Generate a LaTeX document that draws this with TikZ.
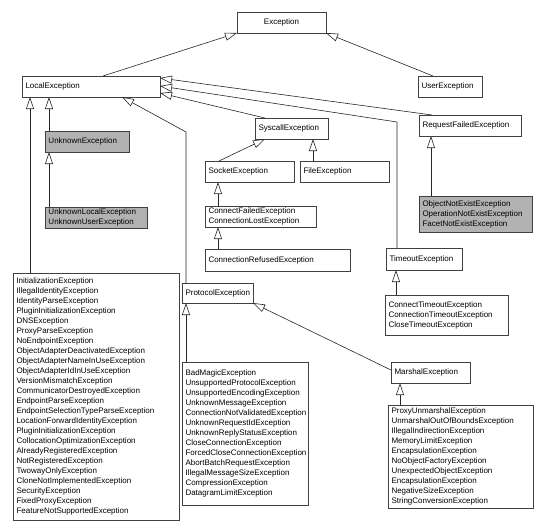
\documentclass[tikz,border=0pt]{standalone}
\usepackage{fontspec}
\setmainfont{Liberation Sans}
\usetikzlibrary{arrows.meta}

\begin{document}
\begin{tikzpicture}[x=1pt, y=-1pt,
    cls/.style={draw=black!75, line width=0.6pt, anchor=north west, outer sep=0pt,
      inner xsep=3.5pt, inner ysep=0pt, align=left, font=\fontsize{8}{10}\selectfont},
    shaded/.style={cls, fill=gray!60},
    inherit/.style={draw=black!85, line width=0.6pt, -{Triangle[open, length=12pt, width=8pt]}}]
    \useasboundingbox (0,0) rectangle (552,525);
    % Root classes
    \node[cls, text width=82pt, minimum height=21pt, align=center] (exc) at (237,12) {Exception};
    \node[cls, text width=131pt, minimum height=21pt] (loc) at (22,76) {LocalException};
    \node[cls, text width=57pt, minimum height=21pt] (user) at (418,76) {UserException};
    % Second level
    \node[cls, text width=95pt, minimum height=21pt] (reqf) at (419,115) {RequestFailedException};
    \node[cls, text width=66pt, minimum height=21pt] (sysc) at (255,118) {SyscallException};
    \node[shaded, text width=77pt, minimum height=21pt] (unk) at (45,131) {UnknownException};
    \node[cls, text width=82pt, minimum height=21pt] (sock) at (205,161) {SocketException};
    \node[cls, text width=82pt, minimum height=21pt] (file) at (300,161) {FileException};
    \node[shaded, text width=106pt, minimum height=36pt] (objne) at (419,196)
        {ObjectNotExistException\\OperationNotExistException\\FacetNotExistException};
    \node[cls, text width=104pt, minimum height=21pt] (conn) at (205,206)
        {ConnectFailedException\\ConnectionLostException};
    \node[shaded, text width=95pt, minimum height=21pt] (unkl) at (45,207)
        {UnknownLocalException\\UnknownUserException};
    \node[cls, text width=69pt, minimum height=22pt] (timeout) at (386,248) {TimeoutException};
    \node[cls, text width=138pt, minimum height=22pt] (refused) at (205,249) {ConnectionRefusedException};
    % Long lists
    \node[cls, text width=159pt, minimum height=247pt] (init) at (13,273)
        {InitializationException\\IllegalIdentityException\\IdentityParseException\\
         PluginInitializationException\\DNSException\\ProxyParseException\\
         NoEndpointException\\ObjectAdapterDeactivatedException\\
         ObjectAdapterNameInUseException\\ObjectAdapterIdInUseException\\
         VersionMismatchException\\CommunicatorDestroyedException\\
         EndpointParseException\\EndpointSelectionTypeParseException\\
         LocationForwardIdentityException\\PluginInitializationException\\
         CollocationOptimizationException\\AlreadyRegisteredException\\
         NotRegisteredException\\TwowayOnlyException\\
         CloneNotImplementedException\\SecurityException\\
         FixedProxyException\\FeatureNotSupportedException};
    \node[cls, text width=64pt, minimum height=20pt] (prot) at (182,283) {ProtocolException};
    \node[cls, text width=116pt, minimum height=40pt] (ctimeout) at (385,295)
        {ConnectTimeoutException\\ConnectionTimeoutException\\CloseTimeoutException};
    \node[cls, text width=119pt, minimum height=143pt] (bad) at (182,362)
        {BadMagicException\\UnsupportedProtocolException\\UnsupportedEncodingException\\
         UnknownMessageException\\ConnectionNotValidatedException\\
         UnknownRequestIdException\\UnknownReplyStatusException\\
         CloseConnectionException\\ForcedCloseConnectionException\\
         AbortBatchRequestException\\IllegalMessageSizeException\\
         CompressionException\\DatagramLimitException};
    \node[cls, text width=72pt, minimum height=21pt] (marsh) at (391,362) {MarshalException};
    \node[cls, text width=138pt, minimum height=103pt] (mlist) at (388,405)
        {ProxyUnmarshalException\\UnmarshalOutOfBoundsException\\
         IllegalIndirectionException\\MemoryLimitException\\
         EncapsulationException\\NoObjectFactoryException\\
         UnexpectedObjectException\\EncapsulationException\\
         NegativeSizeException\\StringConversionException};
    % Bends
    \coordinate (tbend) at (397,122);
    \coordinate (pbend) at (186,132);
    % Inheritance arrows
    \draw[inherit] ([xshift=81pt]loc.north west) -- (exc.south west);
    \draw[inherit] ([xshift=15pt]user.north west) -- (exc.south east);
    \draw[inherit] ([xshift=13pt]reqf.north west) -- ([yshift=-2pt]loc.north east);
    \draw[inherit] ([xshift=11pt]timeout.north west) -- (tbend) -- ([yshift=-10pt]loc.north east);
    \draw[inherit] ([xshift=10pt]sysc.north west) -- ([yshift=-17pt]loc.north east);
    \draw[inherit] ([xshift=4pt]prot.north west) -- (pbend) -- ([xshift=-38pt]loc.south east);
    \draw[inherit] ([xshift=17pt]init.north west) -- ([xshift=8pt]loc.south west);
    \draw[inherit] ([xshift=4pt]unk.north west) -- ([xshift=27pt]loc.south west);
    \draw[inherit] ([xshift=4pt]unkl.north west) -- ([xshift=4pt]unk.south west);
    \draw[inherit] ([xshift=14pt]sock.north west) -- ([xshift=10pt]sysc.south west);
    \draw[inherit] ([xshift=13pt]file.north west) -- ([xshift=58pt]sysc.south west);
    \draw[inherit] ([xshift=13pt]conn.north west) -- ([xshift=13pt]sock.south west);
    \draw[inherit] ([xshift=13pt]refused.north west) -- ([xshift=13pt]conn.south west);
    \draw[inherit] ([xshift=12pt]objne.north west) -- ([xshift=12pt]reqf.south west);
    \draw[inherit] ([xshift=11pt]ctimeout.north west) -- ([xshift=10pt]timeout.south west);
    \draw[inherit] ([xshift=4pt]bad.north west) -- ([xshift=4pt]prot.south west);
    \draw[inherit] ([yshift=-8pt]marsh.north west) -- (prot.south east);
    \draw[inherit] ([xshift=12pt]mlist.north west) -- ([xshift=9pt]marsh.south west);
\end{tikzpicture}
\end{document}
